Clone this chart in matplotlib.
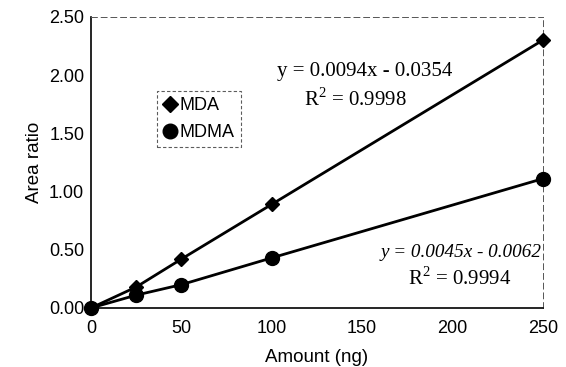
import matplotlib
matplotlib.use('Agg')
import matplotlib.pyplot as plt

amount = [0, 25, 50, 100, 250]
mda = [0.0, 0.18, 0.42, 0.89, 2.30]
mdma = [0.0, 0.11, 0.20, 0.43, 1.11]
xticks = [0, 50, 100, 150, 200, 250]
yticks = [0.0, 0.5, 1.0, 1.5, 2.0, 2.5]

plt.rcParams['font.family'] = ['Liberation Sans', 'DejaVu Sans']
plt.rcParams['mathtext.fontset'] = 'custom'
plt.rcParams['mathtext.rm'] = 'Liberation Serif'

fig = plt.figure(figsize=(5.66, 3.67), dpi=100)
ax = fig.add_axes([0.161, 0.161, 0.798, 0.793])

ax.plot(amount, mda, color='black', lw=2, marker='D', ms=7.5, label='MDA', clip_on=False, zorder=3)
ax.plot(amount, mdma, color='black', lw=2, marker='o', ms=10, label='MDMA', clip_on=False, zorder=3)

ax.set_xlim(0, 250)
ax.set_ylim(0, 2.5)
ax.set_xticks(xticks)
ax.set_yticks(yticks)
ax.set_yticklabels(['%.2f' % v for v in yticks])
ax.tick_params(length=0, labelsize=13)
ax.tick_params(axis='x', pad=9)
ax.tick_params(axis='y', pad=5)
ax.set_xlabel('Amount (ng)', fontsize=13.5, labelpad=8)
ax.set_ylabel('Area ratio', fontsize=13.5, labelpad=4)

for s in ['left', 'bottom']:
    ax.spines[s].set_linewidth(1.2)
for s in ['top', 'right']:
    ax.spines[s].set_linestyle((0, (6, 4)))
    ax.spines[s].set_linewidth(0.7)
    ax.spines[s].set_color('#555555')

leg = ax.legend(loc='upper left', bbox_to_anchor=(0.146, 0.746), fontsize=13,
                frameon=True, fancybox=False, edgecolor='#333333',
                handlelength=0.7, handletextpad=0.2, borderpad=0.35,
                labelspacing=0.55, borderaxespad=0)
leg.get_frame().set_linestyle((0, (3, 2)))
leg.get_frame().set_linewidth(0.8)
for h, size in zip(leg.legend_handles, [8.5, 10.5]):
    h.set_linestyle('none')
    h.set_markersize(size)

serif = 'Liberation Serif'
ax.text(0.606, 0.811, 'y = 0.0094x - 0.0354', transform=ax.transAxes, fontsize=15,
        family=serif, ha='center', va='center')
ax.text(0.584, 0.715, r'R$^2$ = 0.9998', transform=ax.transAxes, fontsize=15,
        family=serif, ha='center', va='center')
ax.text(0.819, 0.189, 'y = 0.0045x - 0.0062', transform=ax.transAxes, fontsize=13.8,
        family=serif, style='italic', ha='center', va='center')
ax.text(0.815, 0.10, r'R$^2$ = 0.9994', transform=ax.transAxes, fontsize=15,
        family=serif, ha='center', va='center')

fig.savefig('out.png', dpi=100)
